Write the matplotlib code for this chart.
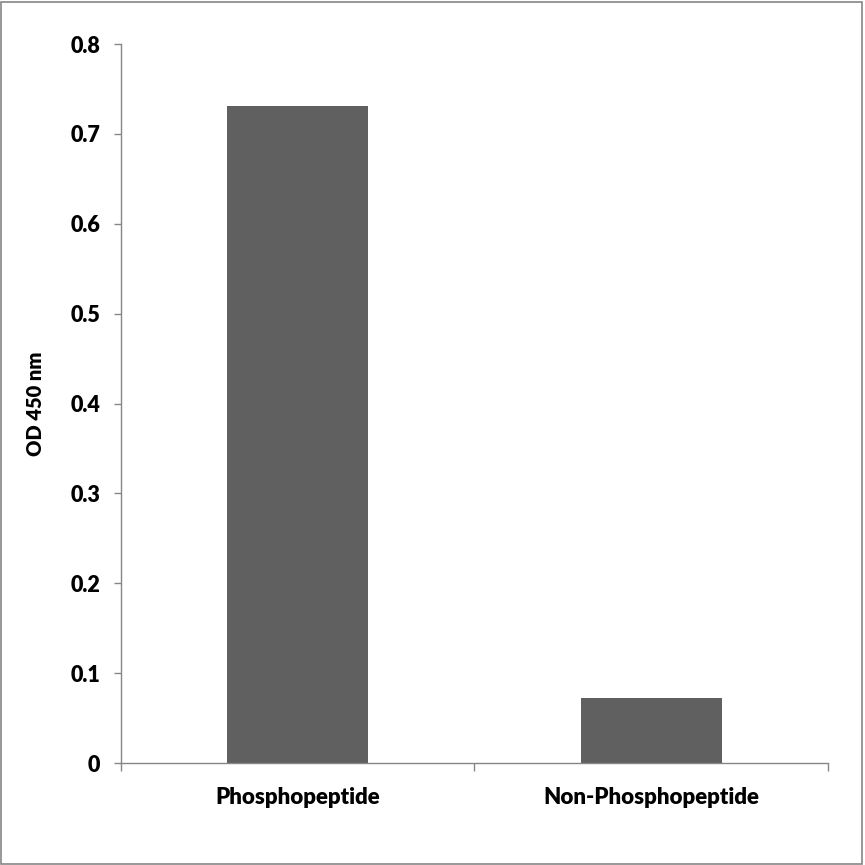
import matplotlib
matplotlib.use("Agg")
import matplotlib.pyplot as plt
from matplotlib.patches import Rectangle

# values
categories = ["Phosphopeptide", "Non-Phosphopeptide"]
od_values = [0.731, 0.072]
yticks = [0, 0.1, 0.2, 0.3, 0.4, 0.5, 0.6, 0.7, 0.8]
ytick_labels = ["0", "0.1", "0.2", "0.3", "0.4", "0.5", "0.6", "0.7", "0.8"]

plt.rcParams['font.family'] = ['Lato', 'DejaVu Sans']
plt.rcParams['font.weight'] = 'heavy'

AXIS_GREY = '#868686'
BAR_GREY = '#606060'
WEIGHT = 'heavy'

fig = plt.figure(figsize=(8.65, 8.65), dpi=100)
ax = fig.add_axes([0.1399, 0.1179, 0.8173, 0.8312])

pos = list(range(len(categories)))
ax.bar(pos, od_values, width=0.4, color=BAR_GREY, zorder=2)

ax.set_xlim(-0.5, len(categories) - 0.5)
ax.set_ylim(0, 0.8)

ax.set_yticks(yticks)
ax.set_yticklabels(ytick_labels, fontsize=15.5, fontweight=WEIGHT)
ax.tick_params(axis='y', direction='out', length=5, width=1, color=AXIS_GREY, pad=10)

# major ticks at category boundaries, labels on minor ticks
ax.set_xticks([p - 0.5 for p in pos] + [pos[-1] + 0.5])
ax.set_xticklabels([])
ax.set_xticks(pos, minor=True)
ax.set_xticklabels(categories, minor=True, fontsize=16, fontweight=WEIGHT)
ax.tick_params(axis='x', which='major', direction='out', length=6, width=1, color=AXIS_GREY)
ax.tick_params(axis='x', which='minor', length=0, pad=17)

for side in ['top', 'right']:
    ax.spines[side].set_visible(False)
for side in ['left', 'bottom']:
    ax.spines[side].set_color(AXIS_GREY)
    ax.spines[side].set_linewidth(1)

ax.set_ylabel("OD 450 nm", fontsize=14.5, fontweight=WEIGHT)
ax.yaxis.set_label_coords(-0.107, 0.5)

# chart border
fig.patches.append(Rectangle((0.001, 0.001), 0.996, 0.997, transform=fig.transFigure,
                             fill=False, edgecolor=AXIS_GREY, linewidth=1.2))

fig.savefig("out.png", dpi=100)
